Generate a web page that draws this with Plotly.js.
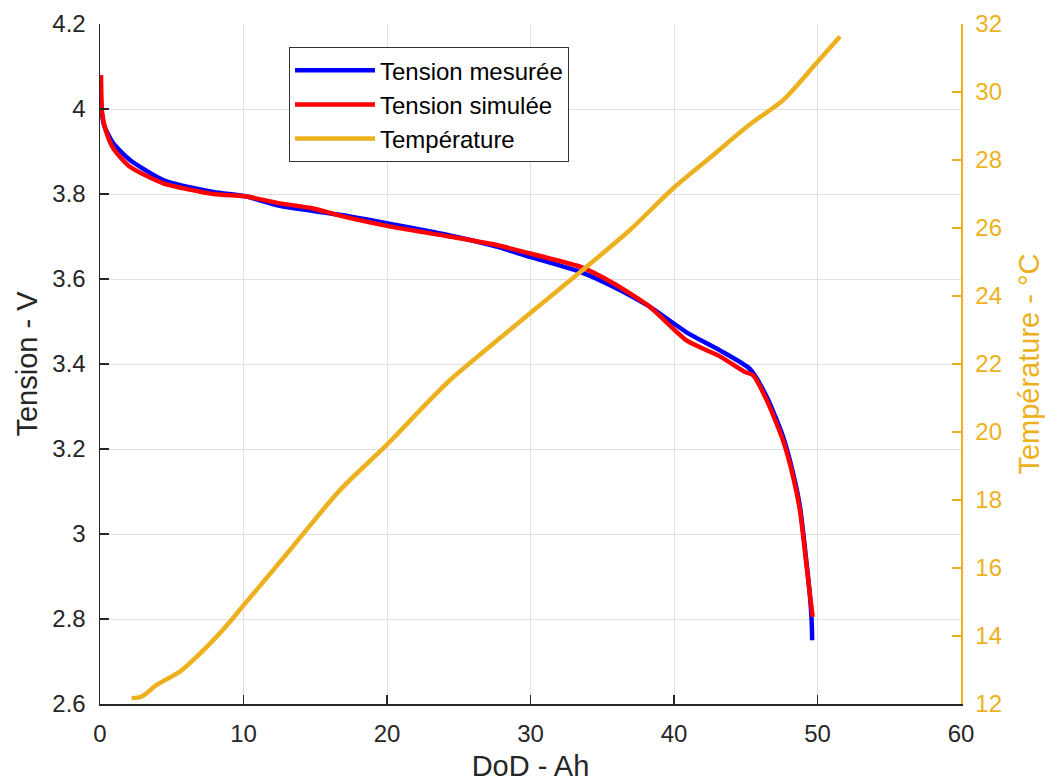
<!DOCTYPE html>
<html>
<head>
<meta charset="utf-8">
<script src="https://cdn.plot.ly/plotly-3.0.1.min.js"></script>
<style>html,body{margin:0;padding:0;background:#fff;}#chart{width:1045px;height:782px;}</style>
</head>
<body>
<div id="chart"></div>
<script>
// Tension mesurée (blue)
const dodMeasured = [0, 0.1, 0.3, 0.93, 2.09, 4.41, 7.9, 10.2, 12.54, 16.7, 19.98, 24.15, 27.64, 29.97, 33.45, 35.77, 38.3, 40.9, 43.2, 45.3, 46.46, 47.6, 48.3, 48.78, 49.24, 49.48, 49.6, 49.63];
const vMeasured   = [4.08, 4.0, 3.96, 3.919, 3.88, 3.833, 3.805, 3.794, 3.772, 3.751, 3.731, 3.704, 3.676, 3.652, 3.617, 3.582, 3.535, 3.474, 3.432, 3.388, 3.323, 3.229, 3.143, 3.064, 2.931, 2.852, 2.79, 2.75];
// Tension simulée (red)
const dodSimulated = [0.07, 0.15, 0.4, 0.93, 2.09, 4.41, 7.9, 10.2, 12.54, 14.86, 16.7, 20, 24.15, 27.64, 29.97, 33.45, 35.77, 38.3, 40.9, 43.2, 44.9, 45.5, 46.46, 47.6, 48.3, 48.78, 49.24, 49.48, 49.66];
const vSimulated   = [4.08, 3.99, 3.95, 3.907, 3.864, 3.825, 3.80, 3.794, 3.778, 3.766, 3.749, 3.725, 3.701, 3.680, 3.660, 3.629, 3.59, 3.535, 3.455, 3.418, 3.382, 3.374, 3.315, 3.22, 3.135, 3.055, 2.925, 2.855, 2.805];
// Température (gold)
const dodTemp = [2.2, 2.9, 3.95, 5.57, 6.74, 7.9, 9.06, 10.0, 13.24, 16.72, 19.98, 22.76, 24.4, 29.97, 33.91, 36.93, 39.95, 42.74, 45.3, 47.6, 49.9, 51.57];
const temp    = [12.17, 12.22, 12.56, 12.95, 13.39, 13.88, 14.42, 14.9, 16.53, 18.29, 19.62, 20.84, 21.53, 23.49, 24.86, 25.94, 27.17, 28.15, 29.05, 29.76, 30.84, 31.63];

const seriesNames = ['Tension mesurée', 'Tension simulée', 'Température'];
const xTitle = 'DoD - Ah';
const yTitle = 'Tension - V';
const y2Title = 'Température - °C';

const gold = '#EDB120';
const font = 'Liberation Sans, Arial, Helvetica, sans-serif';

const traces = [
  {x: dodMeasured, y: vMeasured, name: seriesNames[0], mode: 'lines', line: {color: '#0000FF', width: 4.5, shape: 'spline', smoothing: 0.6}, yaxis: 'y'},
  {x: dodSimulated, y: vSimulated, name: seriesNames[1], mode: 'lines', line: {color: '#FF0000', width: 4.5, shape: 'spline', smoothing: 0.6}, yaxis: 'y'},
  {x: dodTemp, y: temp, name: seriesNames[2], mode: 'lines', line: {color: gold, width: 4.5, shape: 'spline', smoothing: 0.8}, yaxis: 'y2'}
];

const layout = {
  width: 1045, height: 782,
  margin: {l: 100, r: 84, t: 24, b: 78},
  paper_bgcolor: '#fff', plot_bgcolor: '#fff',
  font: {family: font, size: 22, color: '#262626'},
  showlegend: true,
  legend: {
    x: 0.2195, y: 0.966, xanchor: 'left', yanchor: 'top',
    bgcolor: '#fff', bordercolor: '#333', borderwidth: 1,
    font: {family: font, size: 24, color: '#000'},
    itemwidth: 80, tracegroupgap: 0
  },
  xaxis: {
    range: [0, 60], dtick: 10, tick0: 0,
    showgrid: true, gridcolor: '#e0e0e0', gridwidth: 1, zeroline: false,
    showline: true, linecolor: '#262626', linewidth: 1.5,
    ticks: 'inside', ticklen: 9, tickcolor: '#262626', tickwidth: 1.5,
    tickfont: {family: font, size: 24, color: '#262626'},
    ticklabelstandoff: 8,
    title: {text: xTitle, font: {family: font, size: 29, color: '#262626'}, standoff: 18},
    automargin: false
  },
  yaxis: {
    range: [2.6, 4.2], dtick: 0.2, tick0: 2.6,
    showgrid: true, gridcolor: '#e0e0e0', gridwidth: 1, zeroline: false,
    showline: true, linecolor: '#262626', linewidth: 1.5,
    ticks: 'inside', ticklen: 9, tickcolor: '#262626', tickwidth: 1.5,
    tickfont: {family: font, size: 24, color: '#262626'},
    ticklabelstandoff: 8,
    title: {text: yTitle, font: {family: font, size: 29, color: '#262626'}, standoff: 6},
    automargin: false
  },
  yaxis2: {
    overlaying: 'y', side: 'right',
    range: [12, 32], dtick: 2, tick0: 12,
    showgrid: false, zeroline: false,
    showline: true, linecolor: gold, linewidth: 1.5,
    ticks: 'inside', ticklen: 9, tickcolor: gold, tickwidth: 1.5,
    tickfont: {family: font, size: 24, color: gold},
    ticklabelstandoff: 8,
    title: {text: y2Title, font: {family: font, size: 29, color: gold}, standoff: 26},
    automargin: false
  }
};

Plotly.newPlot('chart', traces, layout, {displayModeBar: false, staticPlot: true});
</script>
</body>
</html>
